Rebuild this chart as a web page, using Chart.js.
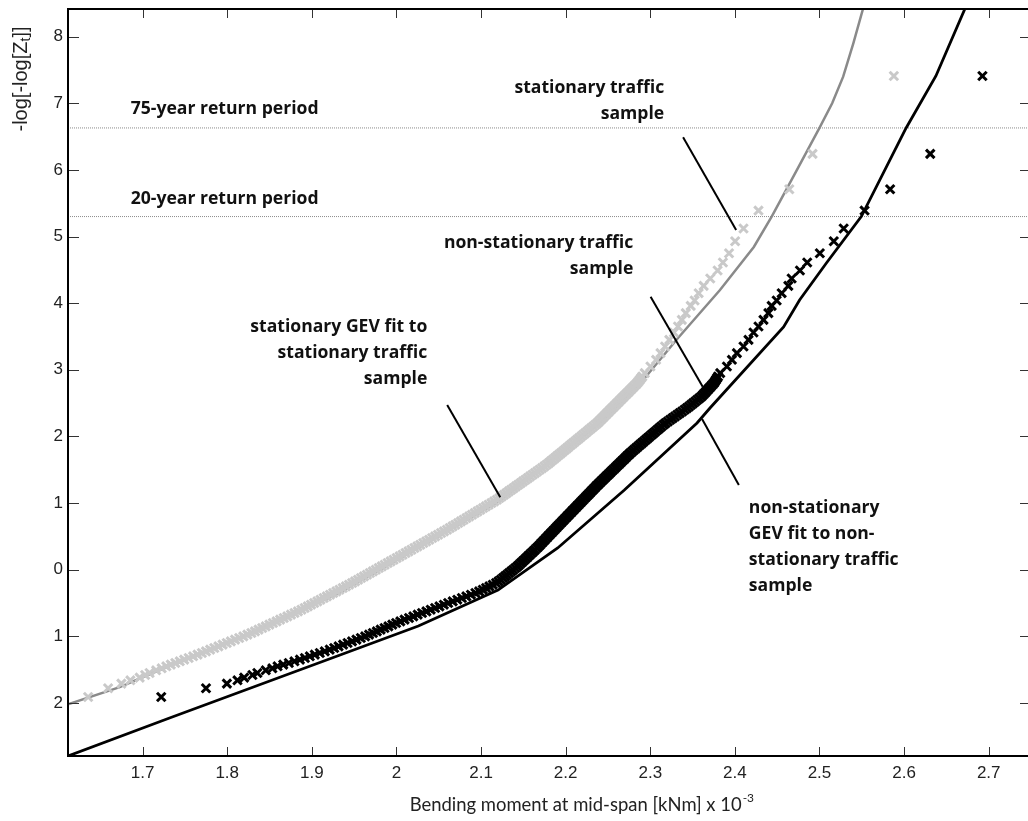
<!DOCTYPE html>
<html>
<head>
<meta charset="utf-8">
<script src="https://cdn.jsdelivr.net/npm/chart.js@4.4.1/dist/chart.umd.min.js"></script>
<style>
  html, body { margin: 0; padding: 0; background: #fff; overflow: hidden; width: 1028px; height: 821px; }
  #wrap { position: relative; width: 1040px; height: 821px; }
</style>
</head>
<body>
<div id="wrap"><canvas id="c" width="1040" height="821"></canvas></div>
<script>
// Reduced variate -log[-log[Z_t]] of the ranked block maxima (shared by both samples)
const reducedVariate = [
  -1.91, -1.78, -1.71, -1.66, -1.62, -1.58, -1.55, -1.51, -1.48,
  -1.45, -1.40, -1.35, -1.30, -1.25, -1.20, -1.15, -1.10, -1.05, -1.00,
  -0.95, -0.90, -0.85, -0.80, -0.75, -0.70, -0.65, -0.60, -0.55, -0.50,
  -0.45, -0.40, -0.35, -0.30, -0.25, -0.20, -0.15, -0.10, -0.05, 0.00,
  0.05, 0.10, 0.15, 0.20, 0.25, 0.30, 0.35, 0.40, 0.45, 0.50,
  0.55, 0.60, 0.65, 0.70, 0.75, 0.80, 0.85, 0.90, 0.95, 1.00,
  1.05, 1.10, 1.15, 1.20, 1.25, 1.30, 1.35, 1.40, 1.45, 1.50,
  1.55, 1.60, 1.65, 1.70, 1.75, 1.80, 1.85, 1.90, 1.95, 2.00,
  2.05, 2.10, 2.15, 2.20, 2.25, 2.30, 2.35, 2.40, 2.45, 2.50,
  2.55, 2.60, 2.65, 2.70, 2.75, 2.80, 2.85, 2.90,
  2.95, 3.05, 3.15, 3.25, 3.35, 3.45, 3.56, 3.65, 3.75, 3.85,
  3.96, 4.04, 4.15, 4.26, 4.37, 4.49, 4.61, 4.75, 4.93, 5.12,
  5.39, 5.71, 6.24, 7.41,
  // intermediate ranks of the densely populated body
  -1.425, -1.375, -1.325, -1.275, -1.225, -1.175, -1.125, -1.075, -1.025, -0.975,
  -0.925, -0.875, -0.825, -0.775, -0.725, -0.675, -0.625, -0.575, -0.525, -0.475,
  -0.425, -0.375, -0.325, -0.275, -0.225, -0.175, -0.125, -0.075, -0.025,
  0.025, 0.075, 0.125, 0.175, 0.225, 0.275, 0.325, 0.375, 0.425, 0.475,
  0.525, 0.575, 0.625, 0.675, 0.725, 0.775, 0.825, 0.875, 0.925, 0.975,
  1.025, 1.075, 1.125, 1.175, 1.225, 1.275, 1.325, 1.375, 1.425, 1.475,
  1.525, 1.575, 1.625, 1.675, 1.725, 1.775, 1.825, 1.875, 1.925, 1.975,
  2.025, 2.075, 2.125, 2.175, 2.225, 2.275, 2.325, 2.375, 2.425, 2.475,
  2.525, 2.575, 2.625, 2.675, 2.725, 2.775, 2.825, 2.875
];

// Bending moment (kNm x 10^-3) of the stationary traffic sample, same order
const stationarySample = [
  1.6356, 1.6592, 1.6749, 1.6855, 1.6965, 1.7030, 1.7082, 1.7160, 1.7225,
  1.7280, 1.7386, 1.7491, 1.7597, 1.7700, 1.7798, 1.7896, 1.7994, 1.8092, 1.8190,
  1.8285, 1.8370, 1.8455, 1.8540, 1.8625, 1.8710, 1.8795, 1.8877, 1.8952, 1.9027,
  1.9102, 1.9177, 1.9252, 1.9327, 1.9402, 1.9476, 1.9546, 1.9616, 1.9686, 1.9756,
  1.9826, 1.9896, 1.9966, 2.0037, 2.0107, 2.0177, 2.0247, 2.0317, 2.0387, 2.0457,
  2.0527, 2.0597, 2.0663, 2.0729, 2.0794, 2.0860, 2.0925, 2.0991, 2.1056, 2.1122,
  2.1187, 2.1244, 2.1300, 2.1356, 2.1412, 2.1468, 2.1524, 2.1580, 2.1636, 2.1692,
  2.1748, 2.1800, 2.1848, 2.1896, 2.1944, 2.1992, 2.2039, 2.2087, 2.2135, 2.2183,
  2.2231, 2.2278, 2.2326, 2.2374, 2.2414, 2.2453, 2.2492, 2.2531, 2.2571, 2.2610,
  2.2649, 2.2688, 2.2728, 2.2767, 2.2806, 2.2845, 2.2876, 2.2906,
  2.2935, 2.3002, 2.3069, 2.3121, 2.3175, 2.3225, 2.3280, 2.3328, 2.3373, 2.3420,
  2.3478, 2.3524, 2.3572, 2.3631, 2.3709, 2.3796, 2.3859, 2.3931, 2.4003, 2.4102,
  2.4279, 2.4643, 2.4918, 2.5879,
  1.7333, 1.7439, 1.7544, 1.7649, 1.7749, 1.7847, 1.7945, 1.8043, 1.8141, 1.8238,
  1.8328, 1.8413, 1.8498, 1.8583, 1.8668, 1.8753, 1.8836, 1.8915, 1.8990, 1.9065,
  1.9140, 1.9215, 1.9290, 1.9365, 1.9439, 1.9511, 1.9581, 1.9651, 1.9721,
  1.9791, 1.9861, 1.9931, 2.0002, 2.0072, 2.0142, 2.0212, 2.0282, 2.0352, 2.0422,
  2.0492, 2.0562, 2.0630, 2.0696, 2.0762, 2.0827, 2.0893, 2.0958, 2.1024, 2.1089,
  2.1155, 2.1216, 2.1272, 2.1328, 2.1384, 2.1440, 2.1496, 2.1552, 2.1608, 2.1664,
  2.1720, 2.1774, 2.1824, 2.1872, 2.1920, 2.1968, 2.2016, 2.2063, 2.2111, 2.2159,
  2.2207, 2.2255, 2.2302, 2.2350, 2.2394, 2.2434, 2.2473, 2.2512, 2.2551, 2.2591,
  2.2630, 2.2669, 2.2708, 2.2748, 2.2787, 2.2826, 2.2861, 2.2891
];

// Bending moment (kNm x 10^-3) of the non-stationary traffic sample, same order
const nonStationarySample = [
  1.7220, 1.7749, 1.7996, 1.8121, 1.8200, 1.8298, 1.8356, 1.8455, 1.8533,
  1.8595, 1.8728, 1.8859, 1.8976, 1.9094, 1.9211, 1.9316, 1.9422, 1.9527, 1.9630,
  1.9722, 1.9813, 1.9905, 1.9996, 2.0096, 2.0199, 2.0302, 2.0405, 2.0508, 2.0611,
  2.0719, 2.0826, 2.0933, 2.1020, 2.1098, 2.1177, 2.1234, 2.1283, 2.1332, 2.1381,
  2.1430, 2.1472, 2.1514, 2.1555, 2.1597, 2.1638, 2.1679, 2.1716, 2.1754, 2.1791,
  2.1829, 2.1867, 2.1904, 2.1942, 2.1980, 2.2018, 2.2056, 2.2094, 2.2132, 2.2170,
  2.2208, 2.2246, 2.2284, 2.2322, 2.2360, 2.2399, 2.2440, 2.2480, 2.2521, 2.2561,
  2.2602, 2.2642, 2.2683, 2.2723, 2.2764, 2.2809, 2.2855, 2.2901, 2.2947, 2.2993,
  2.3039, 2.3085, 2.3131, 2.3180, 2.3236, 2.3292, 2.3348, 2.3405, 2.3458, 2.3507,
  2.3556, 2.3605, 2.3643, 2.3679, 2.3715, 2.3751, 2.3777, 2.3801,
  2.3827, 2.3906, 2.3965, 2.4024, 2.4102, 2.4161, 2.4220, 2.4279, 2.4338, 2.4396,
  2.4435, 2.4494, 2.4553, 2.4632, 2.4671, 2.4769, 2.4855, 2.5004, 2.5169, 2.5286,
  2.5533, 2.5835, 2.6309, 2.6926,
  1.8662, 1.8794, 1.8918, 1.9035, 1.9153, 1.9264, 1.9369, 1.9475, 1.9579, 1.9676,
  1.9768, 1.9859, 1.9951, 2.0046, 2.0148, 2.0251, 2.0354, 2.0457, 2.0560, 2.0665,
  2.0773, 2.0880, 2.0977, 2.1059, 2.1138, 2.1206, 2.1259, 2.1308, 2.1357,
  2.1406, 2.1451, 2.1493, 2.1535, 2.1576, 2.1618, 2.1659, 2.1698, 2.1735, 2.1773,
  2.1810, 2.1848, 2.1886, 2.1923, 2.1961, 2.1999, 2.2037, 2.2075, 2.2113, 2.2151,
  2.2189, 2.2227, 2.2265, 2.2303, 2.2341, 2.2380, 2.2420, 2.2460, 2.2501, 2.2541,
  2.2582, 2.2622, 2.2663, 2.2703, 2.2744, 2.2787, 2.2832, 2.2878, 2.2924, 2.2970,
  2.3016, 2.3062, 2.3108, 2.3156, 2.3208, 2.3264, 2.3320, 2.3377, 2.3432, 2.3483,
  2.3532, 2.3581, 2.3624, 2.3661, 2.3697, 2.3733, 2.3764, 2.3789
];

// Stationary GEV fit to the stationary sample
const stationaryFitX = [1.6118, 1.6729, 1.7200, 1.8259, 1.9318, 2.0024, 2.1200, 2.2376, 2.2847,
                        2.3318, 2.3824, 2.4224, 2.4435, 2.4729, 2.5000, 2.5150, 2.5280, 2.5400, 2.5514];
const stationaryFitY = [-2.02, -1.762, -1.505, -0.965, -0.350, 0.160, 1.016, 2.172, 2.742,
                        3.463, 4.198, 4.843, 5.300, 5.990, 6.630, 7.000, 7.400, 7.900, 8.415];

// Non-stationary GEV fit to the non-stationary sample
const nonStationaryFitX = [1.6118, 1.7318, 1.9318, 2.0259, 2.1200, 2.1906, 2.2694, 2.3553, 2.3706,
                           2.4576, 2.4765, 2.5082, 2.5494, 2.6024, 2.6376, 2.6718];
const nonStationaryFitY = [-2.796, -2.226, -1.288, -0.845, -0.305, 0.326, 1.196, 2.202, 2.427,
                           3.643, 4.048, 4.603, 5.300, 6.630, 7.410, 8.415];

// Return-period levels of the reduced variate
const returnPeriodLevels = [6.63, 5.30];
const returnPeriodLabels = ['75-year return period', '20-year return period'];

// Axis ticks
const xTicks = [1.7, 1.8, 1.9, 2.0, 2.1, 2.2, 2.3, 2.4, 2.5, 2.6, 2.7];
const xTickLabels = ['1.7', '1.8', '1.9', '2', '2.1', '2.2', '2.3', '2.4', '2.5', '2.6', '2.7'];
const yTicks = [-2, -1, 0, 1, 2, 3, 4, 5, 6, 7, 8];
const yTickLabels = ['2', '1', '0', '1', '2', '3', '4', '5', '6', '7', '8'];

const X_MIN = 1.6118, X_MAX = 2.75, Y_MIN = -2.796, Y_MAX = 8.415;

// Callout texts (anchored in data units) and their leader lines
const callouts = [
  { lines: [returnPeriodLabels[0]], x: 1.6859, y: 6.914, align: 'left' },
  { lines: [returnPeriodLabels[1]], x: 1.6859, y: 5.565, align: 'left' },
  { lines: ['stationary traffic', 'sample'], x: 2.3165, y: 7.235, align: 'right' },
  { lines: ['non-stationary traffic', 'sample'], x: 2.2800, y: 4.903, align: 'right' },
  { lines: ['stationary GEV fit to', 'stationary traffic', 'sample'], x: 2.0365, y: 3.642, align: 'right' },
  { lines: ['non-stationary', 'GEV fit to non-', 'stationary traffic', 'sample'], x: 2.4165, y: 0.926, align: 'left' }
];
const leaders = [
  [2.3388, 6.490, 2.4015, 5.098],
  [2.3004, 4.097, 2.3620, 2.747],
  [2.0600, 2.472, 2.1227, 1.087],
  [2.3612, 2.262, 2.4047, 1.271]
];

const pts = (xs, ys) => xs.map((v, i) => ({ x: v, y: ys[i] }));

// font size that makes `text` span `width` pixels
function fitFont(ctx, text, width, family, weight) {
  ctx.font = weight + ' 20px ' + family;
  return 20 * width / ctx.measureText(text).width;
}

const CALLOUT_FAMILY = '"Open Sans", "Noto Sans", sans-serif';
const TICK_FAMILY = '"Liberation Sans", Arial, sans-serif';
const TITLE_FAMILY = 'Lato, "Open Sans", sans-serif';

const decorations = {
  id: 'decorations',
  afterDraw(chart) {
    const { ctx, chartArea: a, scales: { x, y } } = chart;
    const seg = (x1, y1, x2, y2) => { ctx.beginPath(); ctx.moveTo(x1, y1); ctx.lineTo(x2, y2); ctx.stroke(); };
    ctx.save();

    // leader lines
    ctx.strokeStyle = '#000';
    ctx.lineWidth = 2;
    leaders.forEach(l => seg(x.getPixelForValue(l[0]), y.getPixelForValue(l[1]),
                             x.getPixelForValue(l[2]), y.getPixelForValue(l[3])));

    // callout texts
    const cSize = fitFont(ctx, returnPeriodLabels[0], 188, CALLOUT_FAMILY, 'bold');
    ctx.fillStyle = '#111';
    ctx.font = 'bold ' + cSize.toFixed(2) + 'px ' + CALLOUT_FAMILY;
    ctx.textBaseline = 'middle';
    callouts.forEach(c => {
      ctx.textAlign = c.align;
      const px = x.getPixelForValue(c.x), py = y.getPixelForValue(c.y);
      c.lines.forEach((t, i) => ctx.fillText(t, px, py + i * 26));
    });

    // inward tick marks on all four sides
    ctx.strokeStyle = '#333';
    ctx.lineWidth = 1;
    xTicks.forEach(v => {
      const px = Math.round(x.getPixelForValue(v)) + 0.5;
      seg(px, a.bottom, px, a.bottom - 9);
      seg(px, a.top, px, a.top + 9);
    });
    yTicks.forEach(v => {
      const py = Math.round(y.getPixelForValue(v)) + 0.5;
      seg(a.left, py, a.left + 11, py);
      seg(a.right, py, a.right - 11, py);
    });

    // frame
    ctx.strokeStyle = '#000';
    ctx.lineWidth = 2;
    ctx.strokeRect(a.left, a.top, a.right - a.left, a.bottom - a.top);

    // tick labels
    ctx.fillStyle = '#222';
    ctx.font = '17px ' + TICK_FAMILY;
    ctx.textAlign = 'center';
    ctx.textBaseline = 'top';
    xTicks.forEach((v, i) => ctx.fillText(xTickLabels[i], x.getPixelForValue(v), a.bottom + 9));
    ctx.textAlign = 'right';
    ctx.textBaseline = 'middle';
    yTicks.forEach((v, i) => ctx.fillText(yTickLabels[i], a.left - 5, y.getPixelForValue(v)));

    // x axis title with superscript exponent
    const main = 'Bending moment at mid-span [kNm] x 10', sup = '-3';
    const tSize = fitFont(ctx, main, 332, TITLE_FAMILY, '');
    const sSize = tSize * 0.65;
    ctx.font = tSize.toFixed(2) + 'px ' + TITLE_FAMILY;
    const wMain = ctx.measureText(main).width;
    ctx.font = sSize.toFixed(2) + 'px ' + TITLE_FAMILY;
    const wSup = ctx.measureText(sup).width;
    const cx = a.left + (a.right - a.left) * 0.5336;
    const x0 = cx - (wMain + wSup + 1) / 2;
    ctx.textAlign = 'left';
    ctx.textBaseline = 'alphabetic';
    ctx.font = tSize.toFixed(2) + 'px ' + TITLE_FAMILY;
    ctx.fillText(main, x0, a.bottom + 55);
    ctx.font = sSize.toFixed(2) + 'px ' + TITLE_FAMILY;
    ctx.fillText(sup, x0 + wMain + 1, a.bottom + 46);

    // y axis title with subscript
    ctx.translate(a.left - 47, a.top + 70);
    ctx.rotate(-Math.PI / 2);
    const p1 = '-log[-log[Z', p2 = 't', p3 = ']]';
    ctx.font = '20px ' + TICK_FAMILY;
    const w1 = ctx.measureText(p1).width, w3 = ctx.measureText(p3).width;
    ctx.font = '14px ' + TICK_FAMILY;
    const w2 = ctx.measureText(p2).width;
    let tx = -(w1 + w2 + w3) / 2;
    ctx.textAlign = 'left';
    ctx.textBaseline = 'middle';
    ctx.font = '20px ' + TICK_FAMILY;
    ctx.fillText(p1, tx, 0); tx += w1;
    ctx.font = '14px ' + TICK_FAMILY;
    ctx.fillText(p2, tx, 5); tx += w2;
    ctx.font = '20px ' + TICK_FAMILY;
    ctx.fillText(p3, tx, 0);
    ctx.restore();
  }
};

const datasets = returnPeriodLevels.map(v => ({
  type: 'line',
  data: [{ x: X_MIN, y: v }, { x: X_MAX, y: v }],
  borderColor: '#8c8c8c',
  borderWidth: 1,
  borderDash: [1, 1],
  pointRadius: 0,
  order: 7
})).concat([
  {
    type: 'line',
    label: 'stationary GEV fit',
    data: pts(stationaryFitX, stationaryFitY),
    borderColor: '#8a8a8a',
    borderWidth: 2.5,
    pointRadius: 0,
    tension: 0,
    order: 6
  },
  {
    type: 'line',
    label: 'non-stationary GEV fit',
    data: pts(nonStationaryFitX, nonStationaryFitY),
    borderColor: '#000',
    borderWidth: 2.8,
    pointRadius: 0,
    tension: 0,
    order: 5
  },
  {
    label: 'stationary traffic sample',
    data: pts(stationarySample, reducedVariate),
    showLine: false,
    pointStyle: 'crossRot',
    pointRadius: 6,
    borderColor: '#c9c9c9',
    backgroundColor: '#c9c9c9',
    borderWidth: 3,
    order: 4
  },
  {
    label: 'non-stationary traffic sample',
    data: pts(nonStationarySample, reducedVariate),
    showLine: false,
    pointStyle: 'crossRot',
    pointRadius: 6,
    borderColor: '#000',
    backgroundColor: '#000',
    borderWidth: 3,
    order: 3
  }
]);

new Chart(document.getElementById('c'), {
  type: 'scatter',
  data: { datasets },
  options: {
    responsive: false,
    animation: false,
    devicePixelRatio: 1,
    layout: { padding: { left: 68, top: 9, right: 5, bottom: 65 } },
    plugins: { legend: { display: false }, tooltip: { enabled: false } },
    scales: {
      x: { type: 'linear', min: X_MIN, max: X_MAX, display: false },
      y: { type: 'linear', min: Y_MIN, max: Y_MAX, display: false }
    }
  },
  plugins: [decorations]
});
</script>
</body>
</html>
